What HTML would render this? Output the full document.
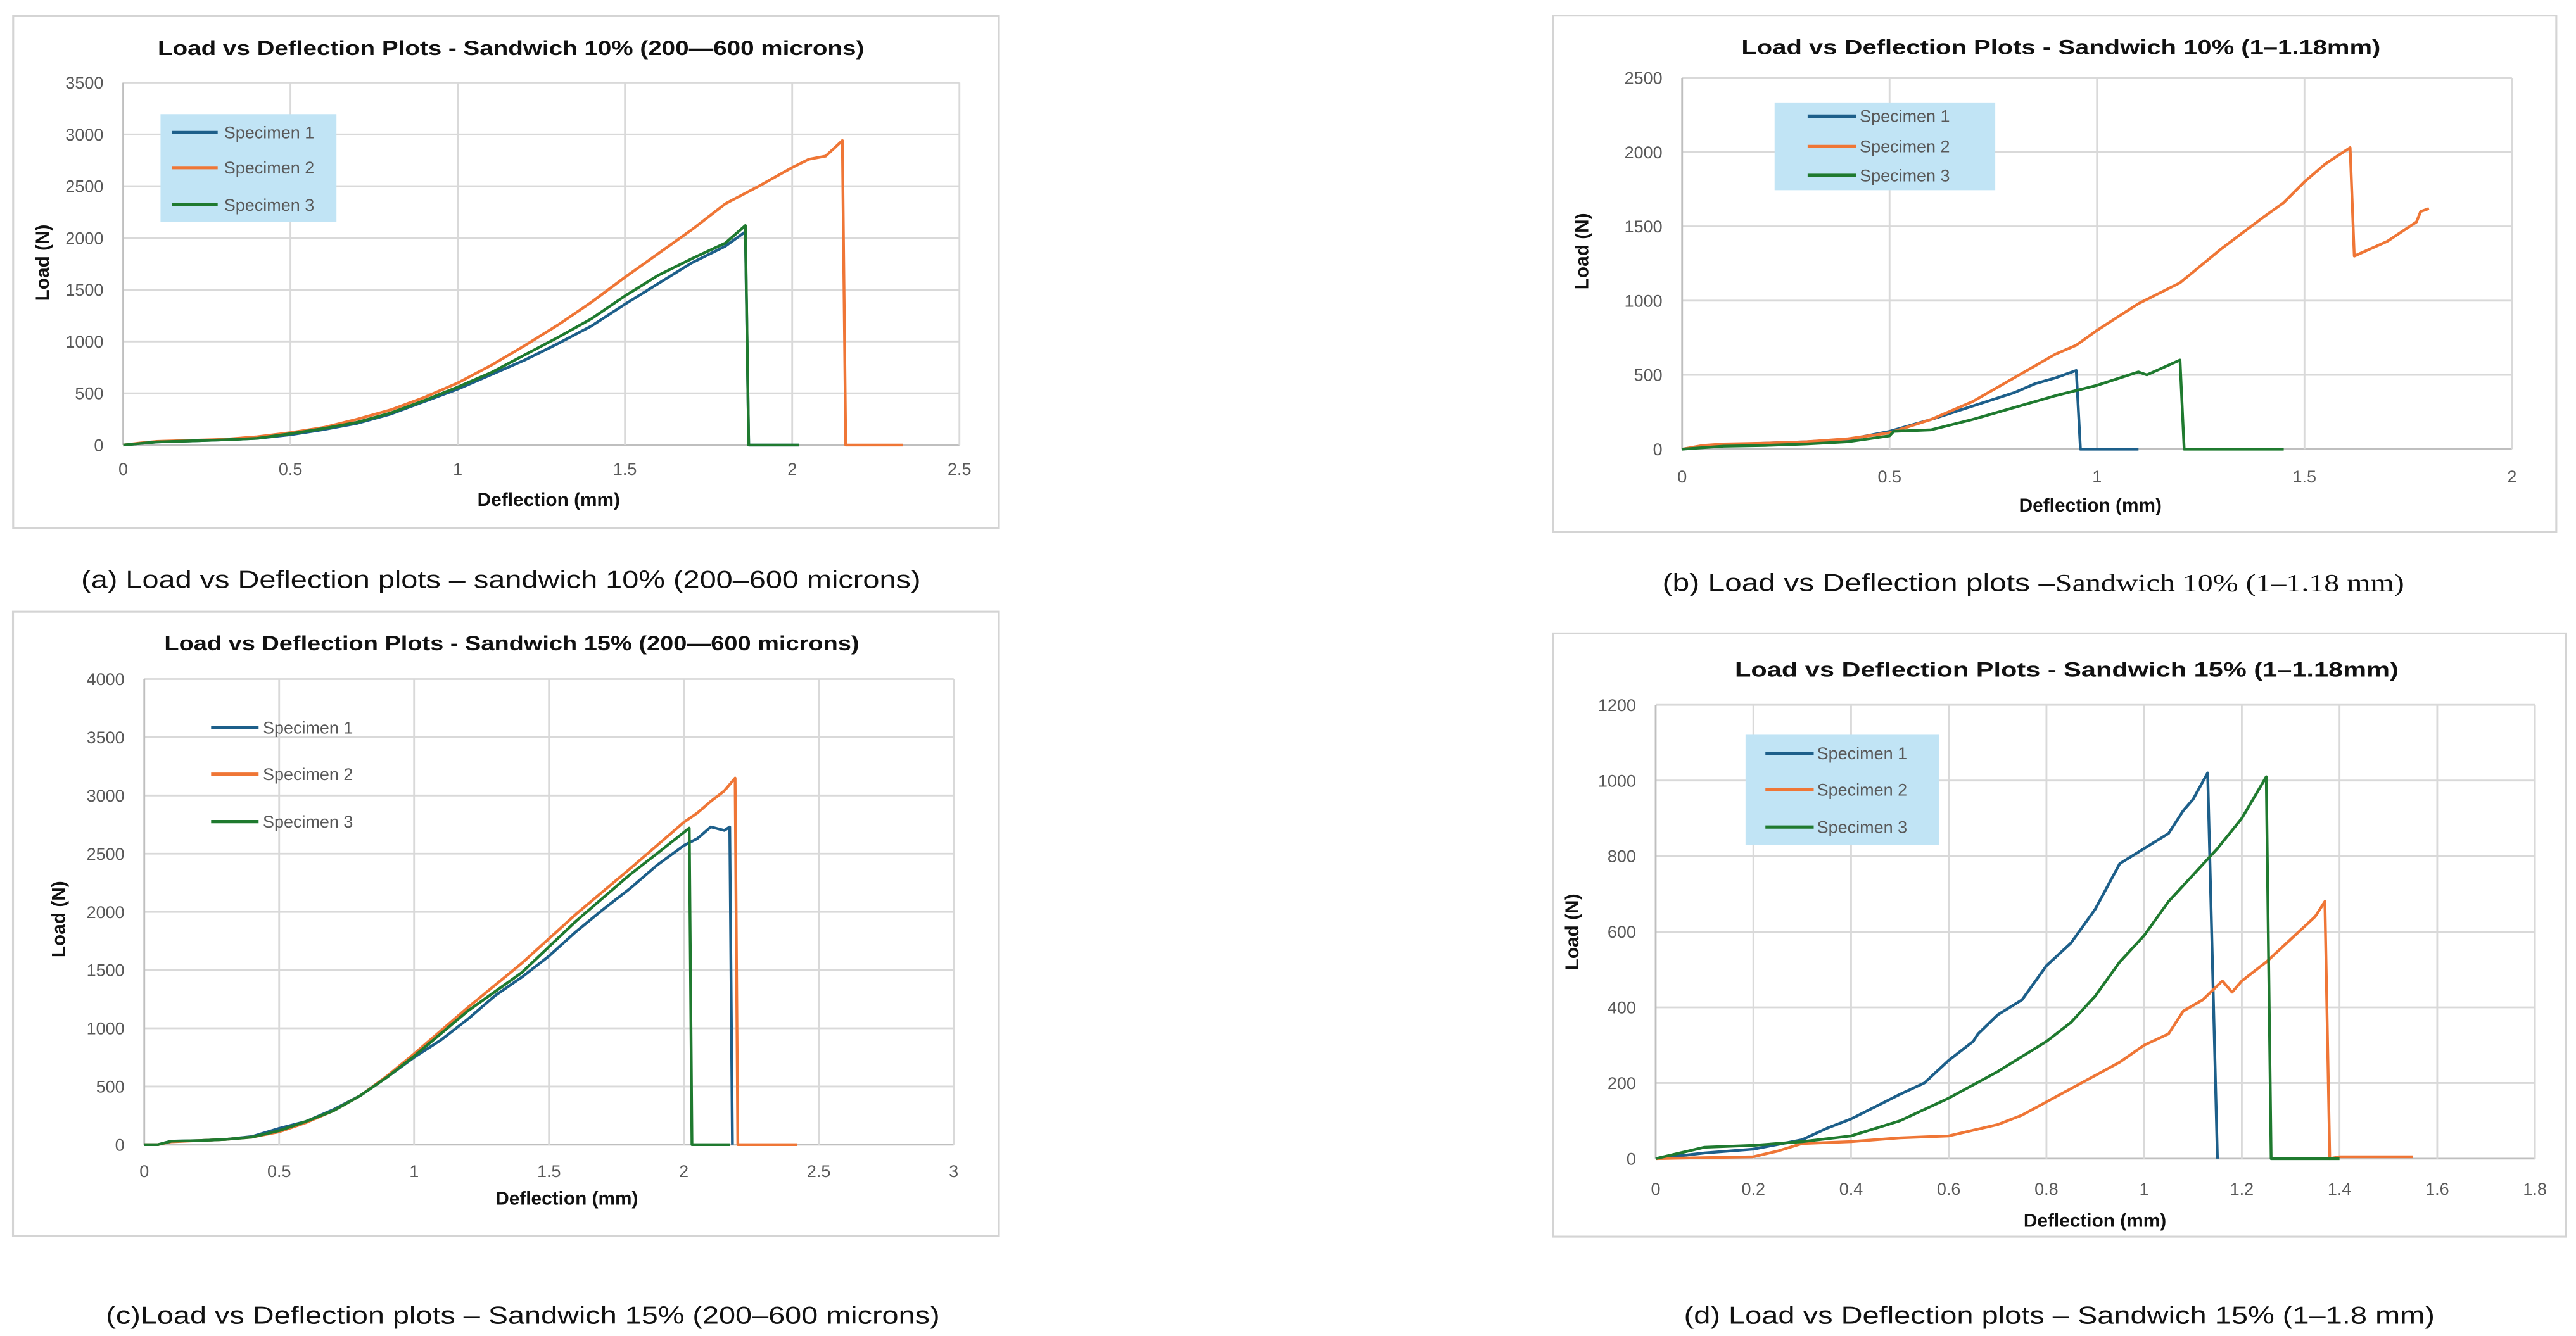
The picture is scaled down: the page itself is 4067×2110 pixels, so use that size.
<!DOCTYPE html>
<html><head><meta charset="utf-8"><style>
html,body{margin:0;padding:0;background:#fff;}
svg{display:block;}
</style></head><body>
<svg id="fig" width="4067" height="2110" viewBox="0 0 1568 813.5" xmlns="http://www.w3.org/2000/svg" font-family="'Liberation Sans', sans-serif"></svg>
<script>
// ---------- DATA ----------
// Panel (a)
const aS1x=[0,0.05,0.1,0.2,0.3,0.4,0.5,0.6,0.7,0.8,0.9,1.0,1.1,1.2,1.3,1.4,1.5,1.6,1.7,1.8,1.86,1.87,2.02];
const aS1y=[0,15,30,40,50,65,100,150,210,300,420,540,680,820,980,1150,1360,1560,1760,1920,2060,0,0];
const aS2x=[0,0.05,0.1,0.2,0.3,0.4,0.5,0.6,0.7,0.8,0.9,1.0,1.1,1.2,1.3,1.4,1.5,1.6,1.7,1.8,1.9,2.0,2.05,2.1,2.15,2.16,2.18,2.33];
const aS2y=[0,20,35,45,55,80,120,170,250,340,460,600,770,960,1160,1380,1620,1850,2080,2330,2500,2680,2760,2790,2940,0,0,0];
const aS3x=[0,0.05,0.1,0.2,0.3,0.4,0.5,0.6,0.7,0.8,0.9,1.0,1.1,1.2,1.3,1.4,1.5,1.6,1.7,1.8,1.86,1.87,2.02];
const aS3y=[0,15,30,40,50,65,110,160,220,310,430,560,700,870,1040,1220,1440,1640,1800,1950,2120,0,0];
// Panel (b)
const bS1x=[0,0.05,0.1,0.2,0.3,0.4,0.5,0.6,0.7,0.8,0.85,0.9,0.95,0.96,1.1];
const bS1y=[0,20,30,40,50,65,120,200,290,380,440,480,530,0,0];
const bS2x=[0,0.05,0.1,0.2,0.3,0.4,0.5,0.6,0.7,0.8,0.9,0.95,1.0,1.1,1.2,1.3,1.4,1.45,1.5,1.55,1.61,1.62,1.7,1.77,1.78,1.8];
const bS2y=[0,25,35,40,50,70,110,200,320,480,640,700,800,980,1120,1350,1560,1660,1800,1920,2030,1300,1400,1530,1600,1620];
const bS3x=[0,0.05,0.1,0.2,0.3,0.4,0.5,0.51,0.6,0.7,0.8,0.9,1.0,1.1,1.12,1.2,1.21,1.23,1.45];
const bS3y=[0,10,20,25,35,50,90,120,130,200,280,360,430,520,500,600,0,0,0];
// Panel (c)
const cS1x=[0,0.05,0.1,0.2,0.3,0.4,0.5,0.6,0.7,0.8,0.9,1.0,1.1,1.2,1.3,1.4,1.5,1.6,1.7,1.8,1.9,2.0,2.05,2.1,2.15,2.17,2.18];
const cS1y=[0,0,30,35,45,70,140,200,300,420,580,750,900,1080,1280,1440,1620,1830,2020,2200,2400,2570,2630,2730,2700,2730,0];
const cS2x=[0,0.05,0.1,0.2,0.3,0.4,0.5,0.6,0.7,0.8,0.9,1.0,1.2,1.4,1.6,1.8,2.0,2.05,2.1,2.15,2.19,2.2,2.42];
const cS2y=[0,0,25,35,45,65,110,190,290,420,590,780,1180,1560,1980,2370,2770,2850,2950,3040,3150,0,0];
const cS3x=[0,0.05,0.1,0.2,0.3,0.4,0.5,0.6,0.7,0.8,0.9,1.0,1.2,1.4,1.6,1.8,1.9,2.02,2.03,2.17];
const cS3y=[0,0,30,35,45,65,120,200,290,420,580,760,1150,1480,1920,2320,2500,2720,0,0];
// Panel (d)
const dS1x=[0,0.1,0.2,0.3,0.35,0.4,0.5,0.55,0.6,0.65,0.66,0.7,0.75,0.8,0.85,0.9,0.95,1.0,1.05,1.08,1.1,1.13,1.15];
const dS1y=[0,15,25,50,80,105,170,200,260,310,330,380,420,510,570,660,780,820,860,920,950,1020,0];
const dS2x=[0,0.2,0.25,0.3,0.4,0.5,0.6,0.65,0.7,0.75,0.8,0.85,0.9,0.95,1.0,1.05,1.08,1.12,1.16,1.18,1.2,1.25,1.3,1.35,1.37,1.38,1.4,1.55];
const dS2y=[0,5,20,40,45,55,60,75,90,115,150,185,220,255,300,330,390,420,470,440,470,520,580,640,680,0,5,5];
const dS3x=[0,0.05,0.1,0.2,0.3,0.4,0.5,0.6,0.7,0.8,0.85,0.9,0.95,1.0,1.05,1.1,1.15,1.2,1.25,1.26,1.4];
const dS3y=[0,15,30,35,45,60,100,160,230,310,360,430,520,590,680,750,820,900,1010,0,0];

const aXt=["0","0.5","1","1.5","2","2.5"], aYt=["0","500","1000","1500","2000","2500","3000","3500"];
const bXt=["0","0.5","1","1.5","2"], bYt=["0","500","1000","1500","2000","2500"];
const cXt=["0","0.5","1","1.5","2","2.5","3"], cYt=["0","500","1000","1500","2000","2500","3000","3500","4000"];
const dXt=["0","0.2","0.4","0.6","0.8","1","1.2","1.4","1.6","1.8"], dYt=["0","200","400","600","800","1000","1200"];
const names=["Specimen 1","Specimen 2","Specimen 3"];
const colors=["#1d5f8a","#ef7636","#1f7a2f"];

// ---------- DRAW ----------
const NS="http://www.w3.org/2000/svg";
const svg=document.getElementById('fig');
function el(tag,attrs,parent,txt){const e=document.createElementNS(NS,tag);for(const k in attrs)e.setAttribute(k,attrs[k]);if(txt!==undefined)e.textContent=txt;(parent||svg).appendChild(e);return e;}

function panel(p){
  const g=el('g',{});
  
  
  const fr=el('rect',{x:p.frame[0],y:p.frame[1],width:p.frame[2]-p.frame[0],height:p.frame[3]-p.frame[1],fill:'#fff',stroke:'#d4d4d4','stroke-width':1.2},g);
  
  
  const xmax=parseFloat(p.xt[p.xt.length-1]), ymax=parseFloat(p.yt[p.yt.length-1]);
  const X=v=>p.x0+(p.x1-p.x0)*v/xmax, Y=v=>p.y0-(p.y0-p.y1)*v/ymax;
  p.yt.forEach(t=>{const v=parseFloat(t);
    const l=el('line',{x1:p.x0,x2:p.x1,y1:Y(v),y2:Y(v),stroke:v===0?'#bfbfbf':'#d9d9d9','stroke-width':1.1},g);
    
    
    const tx=el('text',{x:p.x0-12,y:Y(v)+3.7,'text-anchor':'end','font-size':10.4,fill:'#595959'},g,t);
    
    
  });
  p.xt.forEach(t=>{const v=parseFloat(t);
    const l=el('line',{x1:X(v),x2:X(v),y1:p.y1,y2:p.y0,stroke:v===0?'#bfbfbf':'#d9d9d9','stroke-width':1.1},g);
    
    
    const tx=el('text',{x:X(v),y:p.tickY+3.7,'text-anchor':'middle','font-size':10.4,fill:'#595959'},g,t);
    
    
  });
  p.series.forEach((s,i)=>{
    const d=s[0].map((x,j)=>(j?'L':'M')+X(x).toFixed(2)+','+Y(s[1][j]).toFixed(2)).join('');
    const pa=el('path',{d:d,fill:'none',stroke:colors[i],'stroke-width':1.7,'stroke-linejoin':'round'},g);
    
    
  });
  if(p.legBox){const lb=el('rect',{x:p.legBox[0],y:p.legBox[1],width:p.legBox[2]-p.legBox[0],height:p.legBox[3]-p.legBox[1],fill:'#c1e4f5'},g);
    
    }
  names.forEach((n,i)=>{
    const ly=p.legY[i];
    const ll=el('line',{x1:p.legX[0],x2:p.legX[1],y1:ly,y2:ly,stroke:colors[i],'stroke-width':2},g);
    
    
    const lt=el('text',{x:p.legX[2],y:ly+3.6,'font-size':10.4,fill:'#595959'},g,n);
    
    
  });
  const ti=el('text',{x:p.title[0],y:p.title[1],'font-size':12.6,'font-weight':'bold',fill:'#111',textLength:p.title[2],lengthAdjust:'spacingAndGlyphs'},g,p.titleText);
  
  
  const xa=el('text',{x:p.xTitle[0],y:p.xTitle[1],'text-anchor':'middle','font-size':11.5,'font-weight':'bold',fill:'#111'},g,'Deflection (mm)');
  
  
  const ya=el('text',{x:0,y:0,'text-anchor':'middle','font-size':11.5,'font-weight':'bold',fill:'#111',transform:'translate('+(p.yTitle[0]+4)+','+p.yTitle[1]+') rotate(-90)'},g,'Load (N)');
  
  
  const cap=el('text',{x:p.cap[0],y:p.cap[1],'font-size':15,fill:'#111',textLength:p.cap[2],lengthAdjust:'spacingAndGlyphs'},g);
  
  
  p.capParts.forEach(cp=>{el('tspan',cp[1]?{'font-family':"'Liberation Serif', serif"}:{},cap,cp[0]);});
}

panel({id:'a',frame:[8,9.8,608,321.7],x0:75,x1:584,y0:271,y1:50.3,tickY:285.5,xt:aXt,yt:aYt,
  series:[[aS1x,aS1y],[aS2x,aS2y],[aS3x,aS3y]],legBox:[97.7,69.5,204.8,135],legX:[104.8,132.5,136.4],legY:[80.7,102.1,124.7],
  title:[96,33.5,430],titleText:'Load vs Deflection Plots - Sandwich 10% (200\u2014600 microns)',xTitle:[334,308],yTitle:[25.7,160],
  cap:[49.4,358,511],capParts:[['(a) Load vs Deflection plots  \u2013 sandwich 10% (200\u2013600 microns)',false]]});
panel({id:'b',frame:[945.5,9.5,1556,323.8],x0:1023.9,x1:1529,y0:273.5,y1:47.4,tickY:290,xt:bXt,yt:bYt,
  series:[[bS1x,bS1y],[bS2x,bS2y],[bS3x,bS3y]],legBox:[1080.2,62.4,1214.5,115.8],legX:[1100.3,1129.7,1132],legY:[70.7,89.2,106.8],
  title:[1060,33,389],titleText:'Load vs Deflection  Plots - Sandwich 10% (1\u20131.18mm)',xTitle:[1272.4,311.5],yTitle:[962.8,153],
  cap:[1011.9,360,451.5],capParts:[['(b) Load vs Deflection plots \u2013',false],['Sandwich  10% (1\u20131.18 mm)',true]]});
panel({id:'c',frame:[7.9,372.5,608,752.6],x0:87.8,x1:580.5,y0:697,y1:413.5,tickY:713,xt:cXt,yt:cYt,
  series:[[cS1x,cS1y],[cS2x,cS2y],[cS3x,cS3y]],legBox:null,legX:[128.5,157.4,160],legY:[443,471.4,500.3],
  title:[100,396,423],titleText:'Load vs Deflection Plots - Sandwich 15% (200\u2014600 microns)',xTitle:[345,733.5],yTitle:[35.6,559.7],
  cap:[64.5,806,507.5],capParts:[['(c)Load vs Deflection plots  \u2013 Sandwich 15% (200\u2013600 microns)',false]]});
panel({id:'d',frame:[945.5,385.7,1562,753],x0:1007.8,x1:1543,y0:705.5,y1:429.2,tickY:723.8,xt:dXt,yt:dYt,
  series:[[dS1x,dS1y],[dS2x,dS2y],[dS3x,dS3y]],legBox:[1062.5,447.4,1180.3,514.4],legX:[1074.6,1104,1106],legY:[458.7,480.9,503.6],
  title:[1056,412,404],titleText:'Load vs Deflection Plots - Sandwich 15% (1\u20131.18mm)',xTitle:[1275.2,747],yTitle:[956.8,567.5],
  cap:[1025,806,457],capParts:[['(d) Load vs Deflection plots  \u2013 Sandwich  15% (1\u20131.8 mm)',false]]});
</script>
</body></html>
